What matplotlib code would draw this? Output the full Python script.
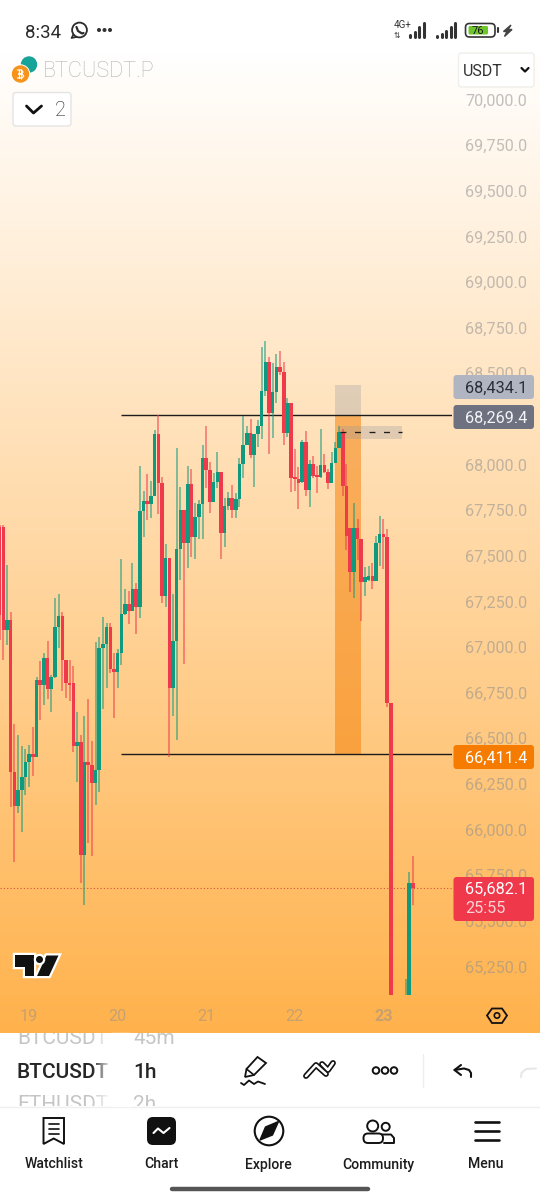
import numpy as np
import matplotlib
matplotlib.use("Agg")
import matplotlib.pyplot as plt
import matplotlib.patheffects as pe
from matplotlib.colors import LinearSegmentedColormap
from matplotlib.patches import Circle, FancyBboxPatch, Polygon, Rectangle

plt.rcParams['font.family'] = ['Roboto', 'DejaVu Sans']

# hourly BTCUSDT.P candles, oldest first
opens = [67658, 67658, 67093, 67148, 66315, 66129, 66217, 66288, 66370, 66414,
         66397, 66819, 66792, 66940, 66770, 66836, 67110, 67170, 66929, 66803,
         66803, 66458, 66480, 65861, 66370, 66353, 66255, 66326, 66994, 67016,
         67110, 66880, 66863, 66967, 67181, 67236, 67197, 67318, 67219, 67745,
         67800, 67784, 67827, 68167, 67899, 67280, 67488, 66775, 67033, 67537,
         67751, 67570, 67893, 67603, 67712, 67784, 68036, 67970, 67795, 67904,
         67959, 67625, 67773, 67816, 67751, 67811, 68003, 68107, 68173, 68052,
         68167, 68211, 68403, 68562, 68282, 68397, 68534, 68507, 68173, 68337,
         67926, 67921, 67904, 68123, 67860, 68003, 67937, 67931, 67997, 67959,
         67899, 68008, 68090, 68178, 67882, 67652, 67411, 67652, 67592, 67356,
         67367, 67389, 67362, 67570, 67619, 67603, 66693, 64680, 64520, 64760,
         64880, 65010, 65707]
highs = [67669, 67669, 67449, 67192, 66578, 66518, 66458, 66441, 66463, 66562,
         66836, 66923, 66967, 67033, 66847, 67269, 67291, 67192, 66929, 66929,
         66896, 66644, 66518, 66622, 66715, 66485, 67027, 67055, 67164, 67131,
         67131, 66967, 66989, 67483, 67318, 67307, 67461, 67351, 67992, 67855,
         67948, 67910, 68189, 68271, 67931, 67564, 67488, 67291, 68090, 67877,
         67751, 67992, 67975, 67789, 67806, 68107, 68211, 68014, 67953, 68068,
         67959, 67816, 67849, 67888, 67844, 68036, 68266, 68211, 68249, 68167,
         68244, 68644, 68677, 68589, 68556, 68605, 68622, 68562, 68364, 68337,
         68085, 67986, 68134, 68184, 68025, 68047, 67992, 68195, 68057, 67975,
         68068, 68123, 68211, 68195, 68003, 67652, 67789, 67701, 67592, 67439,
         67444, 67461, 67608, 67718, 67701, 67647, 66693, 64900, 64840, 65000,
         65182, 65767, 65855]
lows = [67038, 66929, 67011, 66123, 65822, 66091, 65987, 66189, 66233, 66293,
        66397, 66600, 66682, 66715, 66644, 66830, 66994, 66759, 66721, 66704,
        66425, 66260, 65707, 65586, 65926, 65855, 66134, 66206, 66660, 66775,
        66858, 66611, 66775, 66902, 67175, 67126, 67197, 67071, 67159, 67603,
        67696, 67707, 67827, 67729, 67241, 67219, 66397, 66622, 66491, 67367,
        66907, 67433, 67494, 67483, 67592, 67592, 67871, 67734, 67795, 67871,
        67483, 67548, 67751, 67707, 67707, 67767, 67926, 68107, 68036, 67877,
        68096, 68140, 68375, 68057, 68145, 68337, 68490, 68107, 68151, 67849,
        67855, 67756, 67899, 67827, 67767, 67926, 67844, 67926, 67953, 67866,
        67899, 68008, 68090, 67827, 67532, 67302, 67269, 67477, 67142, 67280,
        67362, 67318, 67362, 67444, 67428, 66671, 64560, 64430, 64450, 64640,
        64790, 64950, 65586]
closes = [67175, 67093, 67148, 66315, 66129, 66217, 66288, 66370, 66414, 66397,
          66819, 66792, 66940, 66770, 66836, 67110, 67170, 66929, 66803, 66792,
          66458, 66480, 65861, 66370, 66353, 66255, 66326, 66994, 67016, 67110,
          66880, 66863, 66967, 67181, 67236, 67197, 67318, 67219, 67745, 67800,
          67784, 67827, 68167, 67899, 67280, 67488, 66775, 67033, 67537, 67751,
          67570, 67893, 67603, 67712, 67784, 68036, 67970, 67795, 67904, 67959,
          67625, 67773, 67816, 67751, 67811, 68003, 68107, 68173, 68052, 68167,
          68211, 68403, 68562, 68282, 68397, 68534, 68507, 68173, 68337, 67926,
          67921, 67899, 68123, 67860, 68003, 67937, 67931, 67997, 67959, 67899,
          68008, 68090, 68178, 67882, 67608, 67411, 67652, 67592, 67356, 67384,
          67389, 67362, 67570, 67619, 67603, 66693, 64680, 64520, 64760, 64880,
          65010, 65707, 65682.1]

day_labels = ['19', '20', '21', '22', '23']
day_starts = [8, 32, 56, 80, 104]
price_ticks = list(range(65250, 70001, 250))

resistance = 68269.4
support = 66411.4
zone_top = 68434.1
last_price = 65682.1
entry_level = 68178
entry_band = (68140, 68211)
zone_span = (91, 98)
entry_span = (92.3, 109.1)
level_start = 33

GREEN = '#0f9a80'
RED = '#ee3a4b'
TICK_GREY = '#8f8f8f'

fig = plt.figure(figsize=(5.4, 12), dpi=100, facecolor='white')

# page background with the white to orange wash behind the chart
bg = fig.add_axes([0, 0, 1, 1], zorder=0)
wash = LinearSegmentedColormap.from_list('wash', ['#ffffff', '#ffb24c'])
bg.imshow(np.linspace(0, 1, 256).reshape(-1, 1), cmap=wash, aspect='auto',
          extent=(0, 540, 1033, 50), vmin=0, vmax=1)
bg.set_xlim(0, 540)
bg.set_ylim(1200, 0)
bg.axis('off')

# price pane, 3.69 px per candle and 5.479 dollars per px
ax = fig.add_axes([0, 1 - 995 / 1200, 452 / 540, 945 / 1200], zorder=1)
ax.patch.set_alpha(0)
ax.set_xlim(0.108, 122.6)
ax.set_ylim(65093.5, 70271)
for side in ax.spines.values():
    side.set_visible(False)

ax.yaxis.tick_right()
ax.set_yticks(price_ticks)
ax.set_yticklabels([f'{p:,.1f}' for p in price_ticks])
ax.tick_params(axis='y', length=0, pad=9.4, labelsize=11.7, labelcolor=TICK_GREY)
for lab in ax.get_yticklabels():
    lab.set_alpha(0.55)

ax.set_xticks(day_starts)
ax.set_xticklabels(day_labels)
ax.tick_params(axis='x', length=0, pad=10, labelsize=11.7, labelcolor=TICK_GREY)
for lab, day in zip(ax.get_xticklabels(), day_labels):
    lab.set_alpha(0.5)
    if day == '23':
        lab.set_fontweight('bold')

# trade zones under the candles
ax.add_patch(Rectangle((zone_span[0], support), zone_span[1] - zone_span[0], resistance - support,
                       facecolor='#f57c00', alpha=0.5, edgecolor='none', zorder=1))
ax.add_patch(Rectangle((zone_span[0], resistance), zone_span[1] - zone_span[0], zone_top - resistance,
                       facecolor='#9598a1', alpha=0.3, edgecolor='none', zorder=1))
ax.add_patch(Rectangle((entry_span[0], entry_band[0]), entry_span[1] - entry_span[0],
                       entry_band[1] - entry_band[0],
                       facecolor='#9598a1', alpha=0.3, edgecolor='none', zorder=1))

ax.hlines([resistance, support], level_start, ax.get_xlim()[1], color='#1c1c1c', lw=1.0, zorder=2)
ax.hlines(last_price, ax.get_xlim()[0], ax.get_xlim()[1], color='#d9503a', lw=0.8,
          linestyles=(0, (1, 2)), zorder=2)

idx = np.arange(len(opens))
o = np.array(opens)
h = np.array(highs)
l = np.array(lows)
c = np.array(closes)
up = c >= o
colors = [GREEN if u else RED for u in up]

ax.vlines(idx, l, h, colors=colors, lw=1.15, alpha=0.65, zorder=3)
ax.bar(idx, np.maximum(np.abs(c - o), 12), bottom=np.minimum(o, c), width=0.96,
       color=colors, edgecolor='none', zorder=4)

ax.hlines(entry_level, entry_span[0], entry_span[1], color='#1c1c1c', lw=0.95,
          linestyles=(0, (4.5, 6.5)), zorder=5)

# everything that sits on top of the chart
ui = fig.add_axes([0, 0, 1, 1], zorder=2)
ui.patch.set_alpha(0)
ui.set_xlim(0, 540)
ui.set_ylim(1200, 0)
ui.axis('off')


def box(x0, y0, x1, y1, face, edge='none', round_px=3, lw=1.0, z=5):
    ui.add_patch(FancyBboxPatch((x0, y0), x1 - x0, y1 - y0,
                                boxstyle=f'round,pad=0,rounding_size={round_px}',
                                facecolor=face, edgecolor=edge, lw=lw, zorder=z))


def stroke(xs, ys, color='#111111', lw=1.5, z=6):
    ui.plot(xs, ys, color=color, lw=lw, solid_capstyle='round', solid_joinstyle='round', zorder=z)


def ring(x, y, r, color='#111111', lw=1.4, face='none', z=6):
    ui.add_patch(Circle((x, y), r, facecolor=face, edgecolor=color, lw=lw, zorder=z))


def label(x, y, s, size, color='#222222', weight='normal', ha='left', z=7):
    return ui.text(x, y, s, fontsize=size, color=color, fontweight=weight, ha=ha,
                   va='center_baseline', zorder=z)


# price scale flags
box(453.5, 375, 534, 399, '#b0b5c1')
label(465, 387, f'{zone_top:,.1f}', 11.7, '#2a2e39')
box(453.5, 405, 534, 429, '#6e7280')
label(465, 417, f'{resistance:,.1f}', 11.7, '#f4f4f6')
box(453.5, 745, 534, 769, '#f57c00')
label(465, 757, f'{support:,.1f}', 11.7, '#ffffff')
box(453.5, 877, 534, 921, '#f0384b')
label(465, 888, f'{last_price:,.1f}', 11.7, '#ffffff')
label(465, 907, '25:55', 11.7, '#ffd3d8')

# status bar
label(25, 31, '8:34', 13.4, '#2b2b2b')
ring(79.5, 30, 7.4, '#2b2b2b', 1.3)
stroke([73.5, 71.5, 76.5], [34.5, 38, 37], '#2b2b2b', 1.2)
stroke([76.5, 78, 82, 83.5], [27, 31, 33.5, 33], '#2b2b2b', 1.6)
for dot_x in [99, 104.5, 110]:
    ui.add_patch(Circle((dot_x, 30), 1.3, color='#333333', zorder=6))

ui.text(394, 25.5, '4G+', fontsize=7, color='#333333', va='center', zorder=7)
label(394, 35, '⇅', 5.5, '#333333')
for bar_x, bar_top in zip([410, 414.5, 419, 423.5], [35, 32, 27, 23]):
    stroke([bar_x, bar_x], [37, bar_top], '#333333', 2.2)
for bar_x, bar_top in zip([437, 441.5, 446, 450.5, 455], [36, 34, 31, 27, 23]):
    stroke([bar_x, bar_x], [37, bar_top], '#333333', 2.2)
box(465.5, 23.5, 495, 37, 'none', '#333333', round_px=4, lw=1.2)
box(468.5, 26, 488, 34.5, '#6fc62c', round_px=1.5)
ui.text(478, 30.5, '76', fontsize=8, color='#1a1a1a', ha='center', va='center', zorder=7)
stroke([498, 498], [28, 32], '#333333', 1.5)
ui.add_patch(Polygon([(511, 25), (503.5, 31.5), (507, 31.5), (504.5, 36.5), (512, 29.5), (508, 29.5)],
                     color='#444444', zorder=6))

# symbol header, the coin glyph is drawn by hand since no installed font has it
ui.add_patch(Circle((29, 64.5), 7.5, color='#17a398', zorder=5))
ui.add_patch(Circle((20.5, 74), 9, color='#ffffff', zorder=5))
ui.add_patch(Circle((20.5, 74), 8, color='#f7931a', zorder=5))
stroke([18.5, 18.5], [70, 78], '#ffffff', 0.9)
stroke([17.5, 21.5, 23, 21.5, 18.5], [70, 70, 72, 74, 74], '#ffffff', 0.9)
stroke([18.5, 22, 23.7, 22, 17.5], [74, 74, 76, 78, 78], '#ffffff', 0.9)
stroke([20.5, 20.5], [68.8, 79.2], '#ffffff', 0.6)
label(43, 69, 'BTCUSDT.P', 15.6, '#b4b4b4', weight='light')

box(13, 92.5, 71, 126, '#ffffff', '#e4e4e4')
stroke([26.5, 33.5, 41.5], [106, 113, 106], '#111111', 2.0)
label(55, 109, '2', 14.5, '#222222', weight='light')

box(458.5, 53, 534, 87, '#ffffff', '#f0eeea')
label(463, 69.5, 'USDT', 11.5, '#333333')
stroke([521.5, 525, 528.5], [68, 71.5, 68], '#111111', 1.6)

# TradingView mark
tv_edge = [pe.withStroke(linewidth=3.2, foreground='white')]
for shape in ([(15, 955), (33.5, 955), (33.5, 976), (25, 976), (25, 966.5), (15, 966.5)],
              [(46.5, 955.5), (58.5, 955.5), (49, 976), (37, 976)]):
    ui.add_patch(Polygon(shape, facecolor='#111111', edgecolor='none', zorder=6,
                         path_effects=tv_edge))
ui.add_patch(Circle((39.5, 959.5), 3.5, facecolor='#111111', edgecolor='none', zorder=7,
                    path_effects=tv_edge))

# chart settings hexagon
ui.add_patch(Polygon([(487, 1015.5), (492, 1008.5), (502, 1008.5), (507, 1015.5), (502, 1023), (492, 1023)],
                     facecolor='none', edgecolor='#111111', lw=1.3, zorder=6))
ring(497, 1015.5, 2.7, '#111111', 1.2)

# symbol and interval picker, rows slide under the pane and the nav bar
picker = Rectangle((0, 1033), 540, 73, transform=ui.transData)
for row_y, name, interval, tone, weight in [(1037, 'BTCUSDT', '45m', '#c5c5c5', 'normal'),
                                            (1071, 'BTCUSDT', '1h', '#262626', 'medium'),
                                            (1102, 'ETHUSDT', '2h', '#c5c5c5', 'normal')]:
    for tx, ts in [(17, name), (133, interval)]:
        t = label(tx, row_y, ts, 15, tone, weight=weight)
        t.set_clip_path(picker)
        t.set_clip_on(True)

# symbol column fades out before the interval column
fade = np.ones((1, 64, 4))
fade[0, :, 3] = np.linspace(0, 1, 64)
ui.imshow(fade, extent=(92, 112, 1106, 1033), aspect='auto', zorder=8)
ui.add_patch(Rectangle((112, 1033), 18, 73, color='white', zorder=8))
ui.set_xlim(0, 540)
ui.set_ylim(1200, 0)

# drawing toolbar
ui.add_patch(Polygon([(245, 1077), (246.5, 1069), (257.5, 1057), (266, 1063), (254, 1075)],
                     facecolor='none', edgecolor='#111111', lw=1.3, zorder=6))
stroke([246.5, 254], [1069, 1075], '#111111', 1.2)
stroke([241, 244, 249, 254, 258, 265], [1083, 1085, 1080.5, 1084, 1081.5, 1084], '#111111', 1.3)

stroke([306, 316, 326], [1076, 1065, 1074], '#111111', 4.2)
stroke([306, 316, 326], [1076, 1065, 1074], '#ffffff', 1.8, z=7)
stroke([322, 328, 333], [1064, 1070, 1063], '#111111', 4.2)
stroke([322, 328, 333], [1064, 1070, 1063], '#ffffff', 1.8, z=7)

for ox in [376, 385, 394]:
    ring(ox, 1070.5, 3.3, '#111111', 1.4)
stroke([423, 423], [1054, 1087], '#eeeeee', 1.0)
stroke([461, 454.5, 461], [1065, 1070, 1075], '#111111', 1.5)
stroke([454.5, 464, 469, 471, 471], [1070, 1068.5, 1070, 1073, 1077], '#111111', 1.5)
stroke([521, 521.5, 526, 536], [1077, 1073, 1069, 1068.5], '#e8e8e8', 1.5)
stroke([0, 540], [1106.5, 1106.5], '#efefef', 1.0)

# bottom navigation
ui.add_patch(Polygon([(43.5, 1118), (64, 1118), (64, 1144), (53.7, 1138.5), (43.5, 1144)],
                     facecolor='none', edgecolor='#111111', lw=1.4, zorder=6))
for line_y in [1123.5, 1128.5, 1134]:
    stroke([48.5, 59], [line_y, line_y], '#111111', 1.2)

box(147, 1117, 176, 1145, '#111111', round_px=6)
stroke([153.5, 158, 163.5, 169.5], [1133, 1128.5, 1133, 1128], '#ffffff', 1.5)

ring(269, 1131, 14.3, '#111111', 1.5)
ui.add_patch(Polygon([(278.5, 1121.5), (272.5, 1135), (260, 1140), (265.5, 1127)], color='#111111', zorder=6))

ring(372.7, 1126, 5.5, '#111111', 1.4)
ring(385.7, 1126.8, 4, '#111111', 1.4)
box(363.5, 1133.5, 383, 1143, 'none', '#111111', round_px=4.5, lw=1.4)
stroke([382, 391, 394, 394, 384], [1134.5, 1134.5, 1138, 1143, 1143], '#111111', 1.4)

for line_y in [1122, 1131, 1140]:
    stroke([474.5, 498.5], [line_y, line_y], '#111111', 1.9)

for cx, name in zip([54, 161.5, 268, 378, 486], ['Watchlist', 'Chart', 'Explore', 'Community', 'Menu']):
    label(cx, 1163, name, 10.1, '#1c1c1c', weight='medium', ha='center')

stroke([172, 368], [1189, 1189], '#555555', 3.2)

fig.savefig('out.png', dpi=100)
